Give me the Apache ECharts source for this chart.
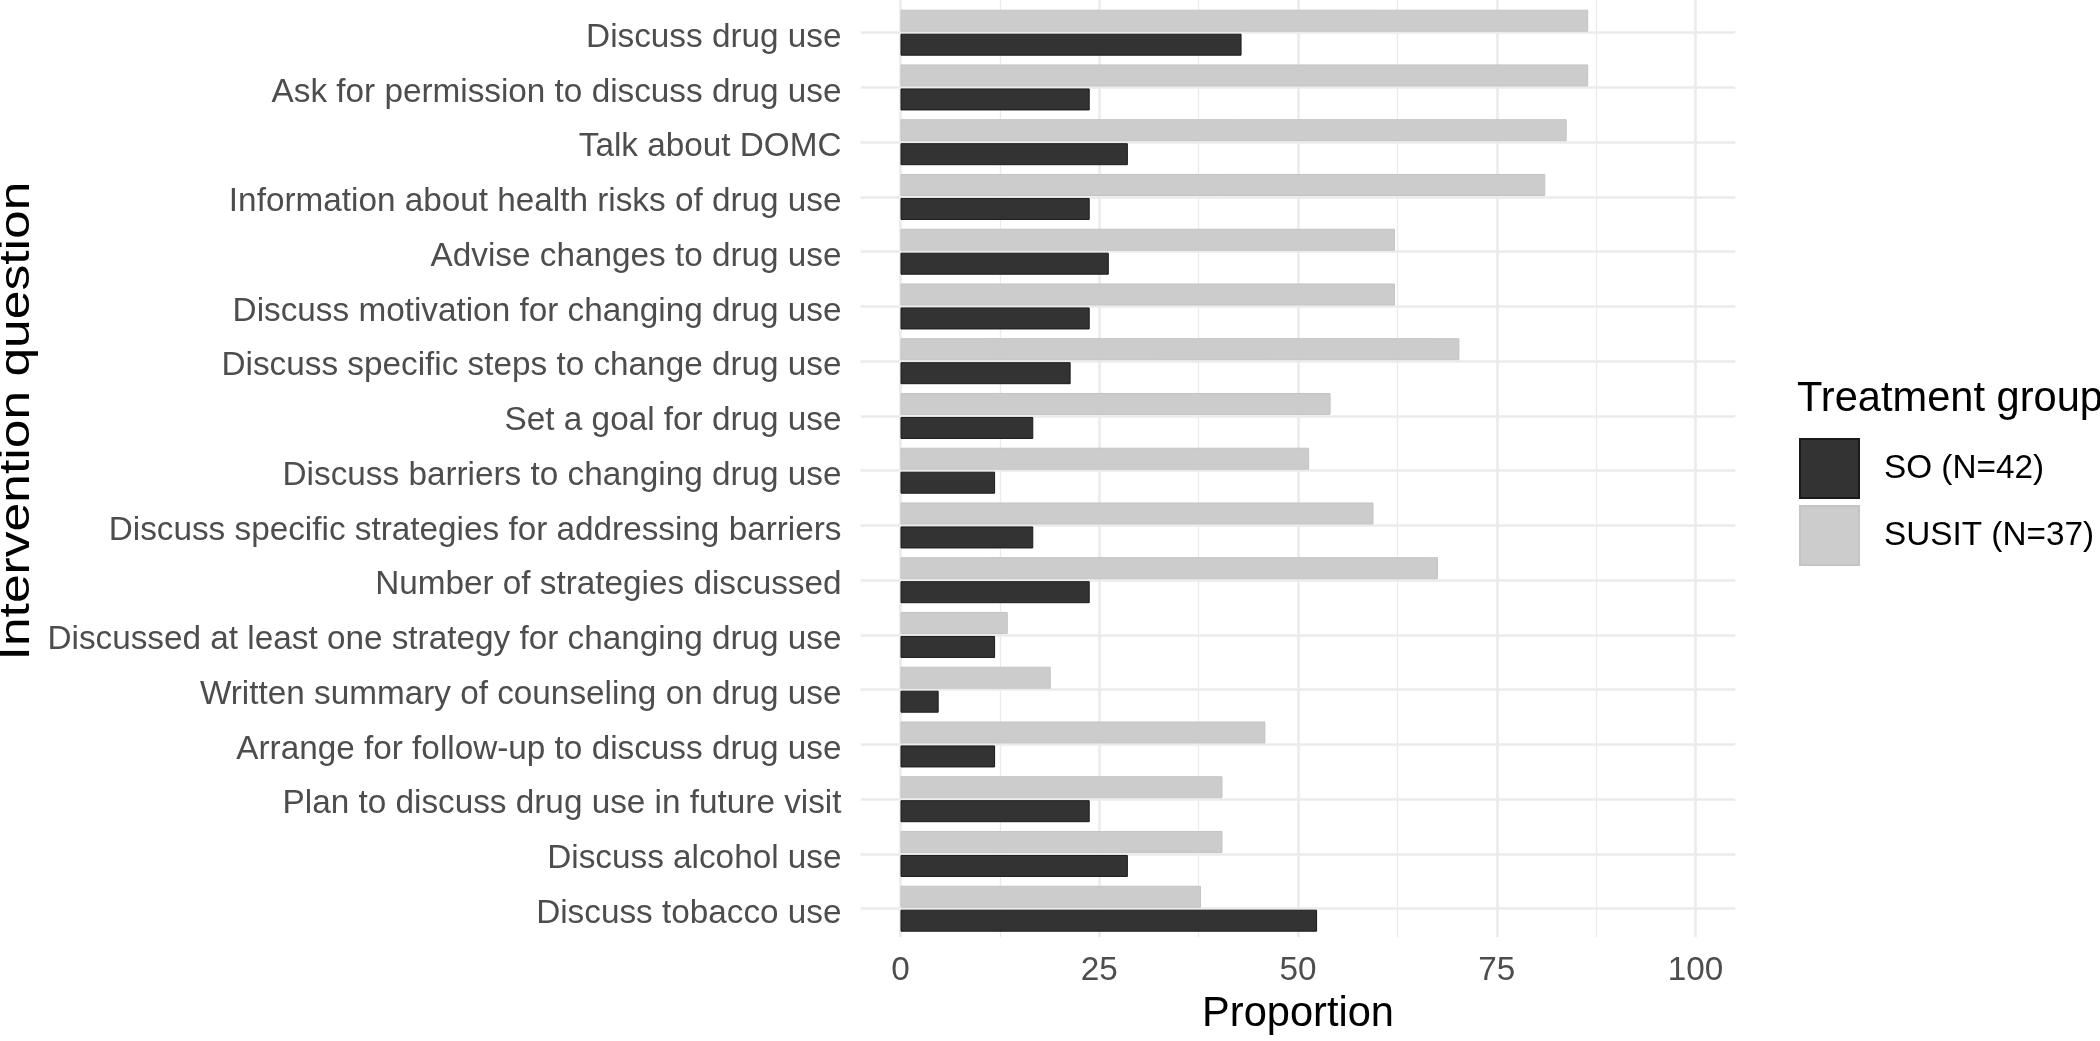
<!DOCTYPE html>
<html>
<head>
<meta charset="utf-8">
<script src="https://cdn.jsdelivr.net/npm/echarts@6/dist/echarts.min.js"></script>
<style>
html,body{margin:0;padding:0;background:#fff;}
#chart{width:2100px;height:1041px;}
</style>
</head>
<body>
<div id="chart"></div>
<script>
const categories = [
  'Discuss drug use',
  'Ask for permission to discuss drug use',
  'Talk about DOMC',
  'Information about health risks of drug use',
  'Advise changes to drug use',
  'Discuss motivation for changing drug use',
  'Discuss specific steps to change drug use',
  'Set a goal for drug use',
  'Discuss barriers to changing drug use',
  'Discuss specific strategies for addressing barriers',
  'Number of strategies discussed',
  'Discussed at least one strategy for changing drug use',
  'Written summary of counseling on drug use',
  'Arrange for follow-up to discuss drug use',
  'Plan to discuss drug use in future visit',
  'Discuss alcohol use',
  'Discuss tobacco use'
];
const soValues    = [42.9, 23.8, 28.6, 23.8, 26.2, 23.8, 21.4, 16.7, 11.9, 16.7, 23.8, 11.9, 4.8, 11.9, 23.8, 28.6, 52.4];
const susitValues = [86.5, 86.5, 83.8, 81.1, 62.2, 62.2, 70.3, 54.1, 51.4, 59.5, 67.6, 13.5, 18.9, 45.9, 40.5, 40.5, 37.8];
const seriesNames = ['SO (N=42)', 'SUSIT (N=37)'];
const xMin = 0, xMax = 100, xStep = 25;

const FONT = 'Liberation Sans, Arial, sans-serif';
const GRID_COLOR = '#ebebeb';
const TEXT_SIZE = 33.3, TITLE_SIZE = 41.6;

const chart = echarts.init(document.getElementById('chart'), null, {renderer: 'canvas'});

const step = 54.75;          // category band
const firstCenter = 32.7;
const labelShift = 5;        // text baseline offset like ggplot
const panelTop = 0, panelBottom = 941.5;
const zeroX = 900.5, hundredX = 1695.5;
const panelLeft = 860.7, panelRight = 1735.3;

const option = {
  backgroundColor: '#ffffff',
  animation: false,
  textStyle: {fontFamily: FONT},
  title: {
    text: 'Treatment group',
    left: 1797, top: 379, padding: 0,
    textStyle: {fontFamily: FONT, fontSize: TITLE_SIZE, fontWeight: 'normal', color: '#000', lineHeight: TITLE_SIZE}
  },
  graphic: [{
    type: 'text',
    x: 18, y: 421,
    rotation: Math.PI / 2,
    scaleX: 1.24, scaleY: 1,
    style: {
      text: 'Intervention question',
      fontFamily: FONT, fontSize: TITLE_SIZE, fill: '#000',
      align: 'center', verticalAlign: 'middle'
    }
  }],
  legend: {
    orient: 'vertical',
    left: 1799, top: 438, padding: 0,
    itemWidth: 59, itemHeight: 59, itemGap: 6,
    icon: 'rect',
    data: seriesNames,
    textStyle: {fontFamily: FONT, fontSize: TEXT_SIZE, color: '#000', padding: [0, 0, 0, 20]}
  },
  grid: [
    // bars
    {left: zeroX, width: hundredX - zeroX, top: firstCenter - step / 2, height: step * categories.length},
    // horizontal gridlines across the full panel
    {left: panelLeft, width: panelRight - panelLeft, top: firstCenter, height: step * (categories.length - 1)},
    // vertical gridlines across the full panel height + x tick labels
    {left: zeroX, width: hundredX - zeroX, top: panelTop, height: panelBottom - panelTop},
    // category labels
    {left: zeroX, width: hundredX - zeroX, top: firstCenter - step / 2 + labelShift, height: step * categories.length}
  ],
  xAxis: [
    {gridIndex: 0, type: 'value', min: xMin, max: xMax, show: false, splitLine: {show: false}},
    {gridIndex: 1, type: 'value', min: 0, max: 1, show: false, splitLine: {show: false}},
    {gridIndex: 2, type: 'value', min: xMin, max: xMax, interval: xStep,
      axisLine: {show: false}, axisTick: {show: false},
      axisLabel: {fontFamily: FONT, fontSize: TEXT_SIZE, color: '#4d4d4d', margin: 17, lineHeight: TEXT_SIZE},
      splitLine: {show: true, lineStyle: {color: GRID_COLOR, width: 2.6}},
      minorTick: {show: false, splitNumber: 2},
      minorSplitLine: {show: true, lineStyle: {color: GRID_COLOR, width: 1.3}},
      name: 'Proportion', nameLocation: 'middle', nameGap: 57,
      nameTextStyle: {fontFamily: FONT, fontSize: TITLE_SIZE, color: '#000', lineHeight: TITLE_SIZE}
    },
    {gridIndex: 3, type: 'value', min: xMin, max: xMax, show: false, splitLine: {show: false}}
  ],
  yAxis: [
    {gridIndex: 0, type: 'category', data: categories, inverse: true, show: false,
      axisLine: {show: false}, axisTick: {show: false}, splitLine: {show: false}, axisLabel: {show: false}
    },
    {gridIndex: 1, type: 'category', data: categories, inverse: true, boundaryGap: false,
      axisLine: {show: false}, axisTick: {show: false}, axisLabel: {show: false},
      splitLine: {show: true, interval: 0, lineStyle: {color: GRID_COLOR, width: 2.6}}
    },
    {gridIndex: 2, type: 'value', show: false, splitLine: {show: false}},
    {gridIndex: 3, type: 'category', data: categories, inverse: true,
      axisLine: {show: false}, axisTick: {show: false}, splitLine: {show: false},
      axisLabel: {interval: 0, fontFamily: FONT, fontSize: TEXT_SIZE, color: '#4d4d4d', margin: 59}
    }
  ],
  series: [
    {
      name: seriesNames[1], type: 'bar', xAxisIndex: 0, yAxisIndex: 0,
      data: susitValues, barWidth: 22, barGap: '9%',
      itemStyle: {color: '#cccccc', borderColor: '#c4c4c4', borderWidth: 1},
      z: 3
    },
    {
      name: seriesNames[0], type: 'bar', xAxisIndex: 0, yAxisIndex: 0,
      data: soValues, barWidth: 22, barGap: '9%',
      itemStyle: {color: '#333333', borderColor: '#1a1a1a', borderWidth: 1},
      z: 3
    }
  ]
};
chart.setOption(option);
</script>
</body>
</html>
